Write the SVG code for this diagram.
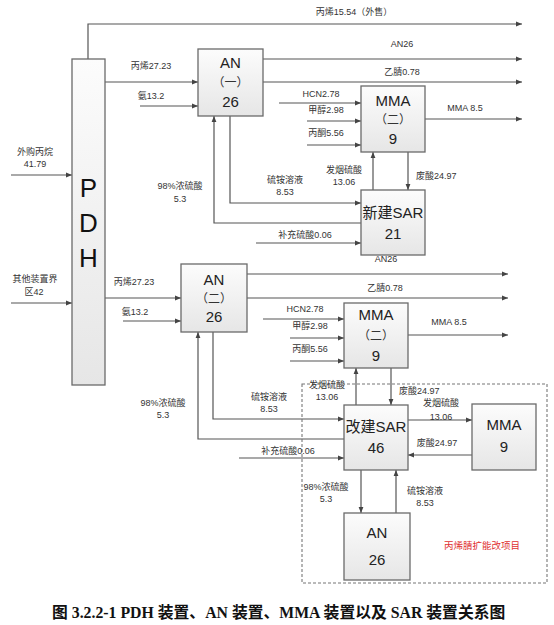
<svg xmlns="http://www.w3.org/2000/svg" width="554" height="625" viewBox="0 0 554 625">
<defs>
<linearGradient id="bg" x1="0" y1="0" x2="0" y2="1">
<stop offset="0" stop-color="#fcfcfc"/>
<stop offset="1" stop-color="#e6e6e6"/>
</linearGradient>
<marker id="ah" viewBox="0 0 10 10" refX="10" refY="5" markerWidth="6" markerHeight="6" markerUnits="userSpaceOnUse" orient="auto">
<path d="M0,1 L10,5 L0,9 Z" fill="#444"/>
</marker>
<style>
.box{fill:url(#bg);stroke:#6a6a6a;stroke-width:1.3}
.ln{fill:none;stroke:#555;stroke-width:1.2}
.ar{marker-end:url(#ah)}
.lb{font-family:"Liberation Sans","Noto Sans CJK SC",sans-serif;font-size:9px;fill:#333;text-anchor:middle}
.lbs{font-family:"Liberation Sans","Noto Sans CJK SC",sans-serif;font-size:9px;fill:#333}
.bt{font-family:"Liberation Sans","Noto Sans CJK SC",sans-serif;font-size:15px;fill:#222;text-anchor:middle}
.bp{font-family:"Noto Sans CJK SC",sans-serif;font-size:12px;fill:#333;text-anchor:middle}
.pd{font-family:"Liberation Sans",sans-serif;font-size:26px;fill:#111;text-anchor:middle}
</style>
</defs>
<rect width="554" height="625" fill="#fff"/>

<g id="connectors">
<path class="ln ar" d="M88,59 V24 H522"/>
<path class="ln ar" d="M105,82 H198"/>
<path class="ln ar" d="M140,106 H198"/>
<path class="ln ar" d="M263,59 H522"/>
<path class="ln ar" d="M263,82 H522"/>
<path class="ln ar" d="M279,103 H361"/>
<path class="ln ar" d="M307,121 H361"/>
<path class="ln ar" d="M307,145 H361"/>
<path class="ln ar" d="M425,119 H522"/>
<path class="ln ar" d="M373,190 V152"/>
<path class="ln ar" d="M408,152 V190"/>
<path class="ln ar" d="M230,116 V203 H361"/>
<path class="ln ar" d="M361,223 H214 V116"/>
<path class="ln ar" d="M256,243 H361"/>
<path class="ln ar" d="M11,175 H72"/>
<path class="ln ar" d="M11,303 H72"/>
<path class="ln ar" d="M105,298 H181"/>
<path class="ln ar" d="M123,321 H181"/>
<path class="ln ar" d="M247,274 H508"/>
<path class="ln ar" d="M247,298 H508"/>
<path class="ln ar" d="M263,319 H344"/>
<path class="ln ar" d="M290,338 H344"/>
<path class="ln ar" d="M290,361 H344"/>
<path class="ln ar" d="M408,335 H508"/>
<path class="ln ar" d="M356,405 V368"/>
<path class="ln ar" d="M391,368 V405"/>
<path class="ln ar" d="M213,332 V419 H344"/>
<path class="ln ar" d="M344,439 H198 V332"/>
<path class="ln ar" d="M239,458 H344"/>
<path class="ln ar" d="M408,420 H472"/>
<path class="ln ar" d="M472,455 H408"/>
<path class="ln ar" d="M361,470 V513"/>
<path class="ln ar" d="M396,513 V470"/>
</g>

<g id="scope">
<rect x="302" y="384" width="245" height="199" fill="none" stroke="#777" stroke-width="1.1" stroke-dasharray="3,2"/>
<text x="482" y="549" font-family="Noto Sans CJK SC, sans-serif" font-size="9.5" fill="#e03030" text-anchor="middle">丙烯腈扩能改项目</text>
</g>

<g id="labels">
<text class="lb" x="354" y="15">丙烯15.54（外售）</text>
<text class="lb" x="402" y="47">AN26</text>
<text class="lb" x="402" y="75">乙腈0.78</text>
<text class="lb" x="151" y="69">丙烯27.23</text>
<text class="lb" x="151" y="99">氨13.2</text>
<text class="lb" x="321" y="97">HCN2.78</text>
<text class="lb" x="326" y="113">甲醇2.98</text>
<text class="lb" x="326" y="136">丙酮5.56</text>
<text class="lb" x="465" y="111">MMA 8.5</text>
<text class="lb" x="35" y="155">外购丙烷</text>
<text class="lb" x="35" y="167">41.79</text>
<text class="lb" x="180" y="189">98%浓硫酸</text>
<text class="lb" x="180" y="202">5.3</text>
<text class="lb" x="285" y="183">硫铵溶液</text>
<text class="lb" x="285" y="195">8.53</text>
<text class="lb" x="344" y="173">发烟硫酸</text>
<text class="lb" x="344" y="185">13.06</text>
<text class="lbs" x="416" y="179">废酸24.97</text>
<text class="lb" x="305" y="238">补充硫酸0.06</text>
<text class="lb" x="386" y="262">AN26</text>
<text class="lb" x="35" y="282">其他装置界</text>
<text class="lb" x="34" y="295">区42</text>
<text class="lb" x="134" y="285">丙烯27.23</text>
<text class="lb" x="135" y="315">氨13.2</text>
<text class="lb" x="385" y="291">乙腈0.78</text>
<text class="lb" x="305" y="312">HCN2.78</text>
<text class="lb" x="310" y="329">甲醇2.98</text>
<text class="lb" x="310" y="352">丙酮5.56</text>
<text class="lb" x="449" y="325">MMA 8.5</text>
<text class="lb" x="327" y="388">发烟硫酸</text>
<text class="lb" x="327" y="400">13.06</text>
<text class="lbs" x="399" y="394">废酸24.97</text>
<text class="lb" x="163" y="406">98%浓硫酸</text>
<text class="lb" x="163" y="418">5.3</text>
<text class="lb" x="269" y="400">硫铵溶液</text>
<text class="lb" x="269" y="412">8.53</text>
<text class="lb" x="288" y="454">补充硫酸0.06</text>
<text class="lb" x="441" y="406">发烟硫酸</text>
<text class="lb" x="441" y="420">13.06</text>
<text class="lb" x="437" y="446">废酸24.97</text>
<text class="lb" x="326" y="490">98%浓硫酸</text>
<text class="lb" x="326" y="502">5.3</text>
<text class="lb" x="425" y="494">硫铵溶液</text>
<text class="lb" x="425" y="506">8.53</text>
</g>

<g id="PDH">
<rect class="box" x="72" y="59" width="33" height="326"/>
<text class="pd" x="88.5" y="197">P</text>
<text class="pd" x="88.5" y="232">D</text>
<text class="pd" x="88.5" y="267">H</text>
</g>

<g id="AN1">
<rect class="box" x="198" y="49" width="65" height="67"/>
<text class="bt" x="230.5" y="68">AN</text>
<text class="bp" x="230.5" y="87">（一）</text>
<text class="bt" x="230.5" y="107">26</text>
</g>

<g id="MMA2a">
<rect class="box" x="361" y="86" width="64" height="66"/>
<text class="bt" x="393" y="106">MMA</text>
<text class="bp" x="393" y="124">（二）</text>
<text class="bt" x="393" y="144">9</text>
</g>

<g id="SARnew">
<rect class="box" x="361" y="190" width="64" height="65"/>
<text class="bt" x="393" y="218">新建SAR</text>
<text class="bt" x="393" y="239">21</text>
</g>

<g id="AN2">
<rect class="box" x="181" y="264" width="66" height="68"/>
<text class="bt" x="214" y="285">AN</text>
<text class="bp" x="214" y="303">（二）</text>
<text class="bt" x="214" y="322">26</text>
</g>

<g id="MMA2b">
<rect class="box" x="344" y="303" width="64" height="65"/>
<text class="bt" x="376" y="320">MMA</text>
<text class="bp" x="376" y="340">（二）</text>
<text class="bt" x="376" y="361">9</text>
</g>

<g id="SARmod">
<rect class="box" x="344" y="405" width="64" height="65"/>
<text class="bt" x="376" y="432">改建SAR</text>
<text class="bt" x="376" y="453">46</text>
</g>

<g id="MMA9">
<rect class="box" x="472" y="404" width="64" height="66"/>
<text class="bt" x="504" y="430">MMA</text>
<text class="bt" x="504" y="452">9</text>
</g>

<g id="AN3">
<rect class="box" x="344" y="513" width="66" height="67"/>
<text class="bt" x="377" y="538">AN</text>
<text class="bt" x="377" y="565" font-size="13">26</text>
</g>

<text x="52" y="618" font-family="Liberation Serif, Noto Sans CJK SC, serif" font-size="15.8" font-weight="bold" fill="#111">图 3.2.2-1 PDH 装置、AN 装置、MMA 装置以及 SAR 装置关系图</text>
</svg>
